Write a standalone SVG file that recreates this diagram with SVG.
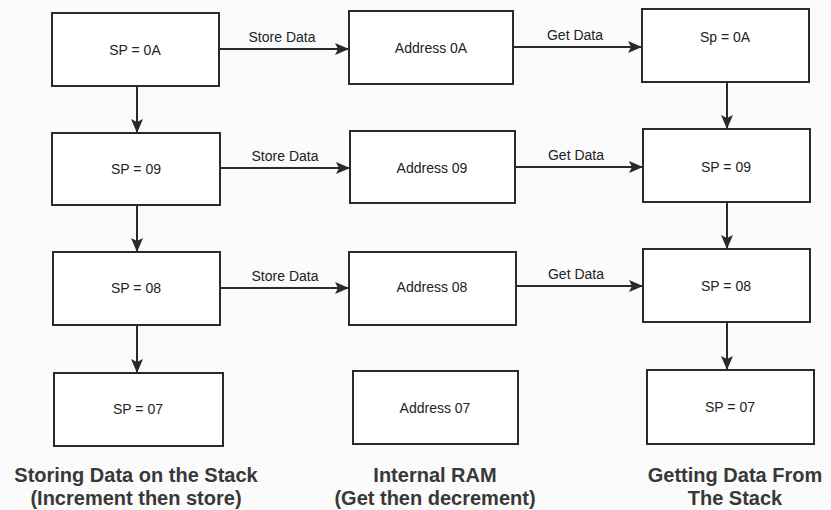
<svg xmlns="http://www.w3.org/2000/svg" width="831" height="510" viewBox="0 0 831 510">
<style>
.box{fill:#fff;stroke:#2a2a2a;stroke-width:2}
.t{font-family:"Liberation Sans",Arial,sans-serif;font-size:14px;fill:#222;text-anchor:middle}
.c{stroke:#2a2a2a;stroke-width:2;fill:none;marker-end:url(#ah)}
.h{font-family:"Liberation Sans",Arial,sans-serif;font-size:20px;font-weight:bold;fill:#383838;text-anchor:middle}
</style>
<defs>
<marker id="ah" viewBox="0 0 14 12" refX="14" refY="6" markerWidth="14" markerHeight="12" markerUnits="userSpaceOnUse" orient="auto">
<path d="M0,0 L14,6 L0,12 L3,6 Z" fill="#2a2a2a"/>
</marker>
</defs>
<rect width="831" height="510" fill="#fbfbfb"/>
<g id="connectors">
<line class="c" x1="137" y1="86" x2="137" y2="133"/>
<line class="c" x1="137" y1="205" x2="137" y2="252"/>
<line class="c" x1="137" y1="325" x2="137" y2="373"/>
<line class="c" x1="727" y1="82" x2="727" y2="129"/>
<line class="c" x1="727" y1="202" x2="727" y2="249"/>
<line class="c" x1="727" y1="322" x2="727" y2="370"/>
<line class="c" x1="219" y1="49" x2="349" y2="49"/>
<line class="c" x1="220" y1="168" x2="350" y2="168"/>
<line class="c" x1="220" y1="288" x2="349" y2="288"/>
<line class="c" x1="513" y1="47" x2="642" y2="47"/>
<line class="c" x1="515" y1="167" x2="643" y2="167"/>
<line class="c" x1="516" y1="286" x2="643" y2="286"/>
<text class="t" x="282" y="42">Store Data</text>
<text class="t" x="285" y="161">Store Data</text>
<text class="t" x="285" y="281">Store Data</text>
<text class="t" x="575" y="40">Get Data</text>
<text class="t" x="576" y="160">Get Data</text>
<text class="t" x="576" y="279">Get Data</text>
</g>
<g id="sp0A"><rect class="box" x="52" y="13" width="167" height="73"/><text class="t" x="135" y="55">SP = 0A</text></g>
<g id="sp09"><rect class="box" x="52" y="133" width="168" height="72"/><text class="t" x="136" y="174">SP = 09</text></g>
<g id="sp08"><rect class="box" x="53" y="252" width="167" height="73"/><text class="t" x="136" y="293">SP = 08</text></g>
<g id="sp07"><rect class="box" x="54" y="373" width="169" height="73"/><text class="t" x="138" y="414">SP = 07</text></g>
<g id="addr0A"><rect class="box" x="349" y="11" width="164" height="73"/><text class="t" x="431" y="53">Address 0A</text></g>
<g id="addr09"><rect class="box" x="350" y="131" width="165" height="72"/><text class="t" x="432" y="173">Address 09</text></g>
<g id="addr08"><rect class="box" x="349" y="252" width="167" height="73"/><text class="t" x="432" y="292">Address 08</text></g>
<g id="addr07"><rect class="box" x="353" y="371" width="165" height="73"/><text class="t" x="435" y="413">Address 07</text></g>
<g id="get0A"><rect class="box" x="642" y="9" width="167" height="73"/><text class="t" x="725" y="42">Sp = 0A</text></g>
<g id="get09"><rect class="box" x="643" y="129" width="167" height="73"/><text class="t" x="726" y="172">SP = 09</text></g>
<g id="get08"><rect class="box" x="643" y="249" width="167" height="73"/><text class="t" x="726" y="291">SP = 08</text></g>
<g id="get07"><rect class="box" x="647" y="370" width="167" height="74"/><text class="t" x="730" y="412">SP = 07</text></g>
<g id="captions">
<text class="h" x="136" y="482">Storing Data on the Stack</text>
<text class="h" x="136" y="505">(Increment then store)</text>
<text class="h" x="435" y="482">Internal RAM</text>
<text class="h" x="435" y="505">(Get then decrement)</text>
<text class="h" x="735" y="482">Getting Data From</text>
<text class="h" x="735" y="505">The Stack</text>
</g>
</svg>
